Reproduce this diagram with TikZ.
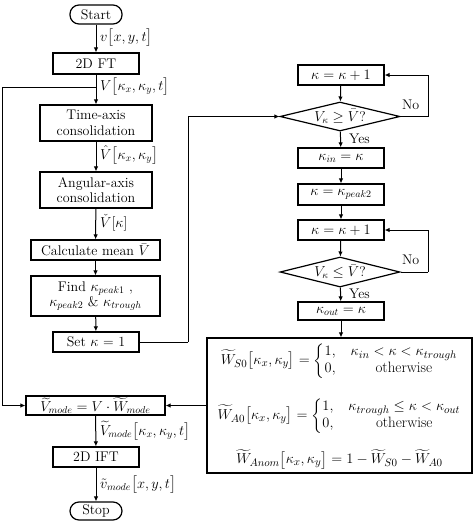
\documentclass[tikz,border=0pt]{standalone}
\usepackage{amsmath}
\usetikzlibrary{shapes.geometric,arrows.meta}
\begin{document}
\begin{tikzpicture}[x=1pt,y=-1pt,
  box/.style={draw, line width=1.2pt, inner sep=1pt, align=center, font=\fontsize{14}{15.5}\selectfont},
  term/.style={box, rounded corners=9pt},
  dec/.style={diamond, draw, line width=1.2pt, aspect=4, inner sep=0pt, font=\fontsize{14}{15}\selectfont},
  arr/.style={line width=1pt, -{Latex[length=5pt,width=4.5pt]}},
  ln/.style={line width=1pt},
  lab/.style={anchor=west, inner sep=1pt, font=\fontsize{14}{15}\selectfont},
  eq/.style={inner sep=1pt, font=\fontsize{15}{17}\selectfont}]
\useasboundingbox (0,0) rectangle (474,523);
% left column
\node[term, minimum width=52pt, minimum height=19pt] (start) at (96,14.5) {Start};
\node[box, minimum width=86pt, minimum height=21pt] (ft) at (96,63.5) {2D FT};
\node[box, minimum width=112pt, minimum height=36pt] (time) at (96,123) {Time-axis\\consolidation};
\node[box, minimum width=112pt, minimum height=36pt] (ang) at (96,190) {Angular-axis\\consolidation};
\node[box, minimum width=129pt, minimum height=20pt] (mean) at (95.5,250) {Calculate mean $\bar{V}$};
\node[box, minimum width=129pt, minimum height=40pt] (find) at (95.5,296) {Find $\kappa_{peak1}$ ,\\$\kappa_{peak2}$ \& $\kappa_{trough}$};
\node[box, minimum width=86pt, minimum height=20pt] (set) at (96,342) {Set $\kappa$ = 1};
\node[box, minimum width=139pt, minimum height=19pt] (vmode) at (95.5,405.5) {$\widetilde{V}_{mode} = V\cdot \widetilde{W}_{mode}$};
\node[box, minimum width=86pt, minimum height=20pt] (ift) at (96,457) {2D IFT};
\node[term, minimum width=52pt, minimum height=18pt] (stop) at (96,511) {Stop};
% right column
\node[box, minimum width=86pt, minimum height=20pt] (inc1) at (341,75) {$\kappa = \kappa + 1$};
\node[dec, minimum width=120pt, minimum height=29pt] (d1) at (340,116.5) {$V_{\kappa} \geq \bar{V}$?};
\node[box, minimum width=86pt, minimum height=20pt] (kin) at (341,158) {$\kappa_{in} = \kappa$};
\node[box, minimum width=86pt, minimum height=21pt] (kp2) at (341,194.5) {$\kappa = \kappa_{peak2}$};
\node[box, minimum width=86pt, minimum height=20pt] (inc2) at (341,230) {$\kappa = \kappa + 1$};
\node[dec, minimum width=120pt, minimum height=30pt] (d2) at (340,272) {$V_{\kappa} \leq \bar{V}$?};
\node[box, minimum width=86pt, minimum height=18pt] (kout) at (341,311) {$\kappa_{out} = \kappa$};
\node[box, minimum width=265pt, minimum height=135pt] (big) at (339.5,405.5) {};
\node[eq] (eq1) at (339.5,361) {$\widetilde{W}_{S0}\bigl[\kappa_x,\kappa_y\bigr] = \left\{\begin{array}{@{}l@{\quad}c@{}}1, & \kappa_{in} < \kappa < \kappa_{trough}\\ 0, & \text{otherwise}\end{array}\right.$};
\node[eq] (eq2) at (339.5,416) {$\widetilde{W}_{A0}\bigl[\kappa_x,\kappa_y\bigr] = \left\{\begin{array}{@{}l@{\quad}c@{}}1, & \kappa_{trough} \leq \kappa < \kappa_{out}\\ 0, & \text{otherwise}\end{array}\right.$};
\node[eq] (eq3) at (339.5,459) {$\widetilde{W}_{Anom}\bigl[\kappa_x,\kappa_y\bigr] = 1 - \widetilde{W}_{S0} - \widetilde{W}_{A0}$};
% left connectors
\draw[arr] (start) -- (ft);
\draw[arr] (ft) -- (time);
\draw[arr] (time) -- (ang);
\draw[arr] (ang) -- (mean);
\draw[arr] (mean) -- (find);
\draw[arr] (find) -- (set);
\draw[arr] (vmode) -- (ift);
\draw[arr] (ift) -- (stop);
\coordinate (br) at (96,87);
\draw[ln] (br) -- (2,87) coordinate (lc);
\draw[arr] (lc) |- (vmode.west);
\coordinate (sr) at (188,342);
\draw[ln] (set.east) -- (sr);
\draw[arr] (sr) |- (d1.west);
\draw[arr] (big.west |- vmode.east) -- (vmode.east);
% right connectors
\draw[arr] (inc1) -- (d1);
\draw[arr] (d1) -- (kin);
\draw[arr] (kin) -- (kp2);
\draw[arr] (kp2) -- (inc2);
\draw[arr] (inc2) -- (d2);
\draw[arr] (d2) -- (kout);
\draw[arr] (kout) -- (big.north -| kout);
\coordinate (n1) at (428,116.5);
\draw[ln] (d1.east) -- (n1);
\draw[arr] (n1) |- (inc1.east);
\coordinate (n2) at (428,272);
\draw[ln] (d2.east) -- (n2);
\draw[arr] (n2) |- (inc2.east);
% labels
\node[lab] (l1) at (99,38) {$v\bigl[x,y,t\bigr]$};
\node[lab] (l2) at (99,87) {$V\bigl[\kappa_x,\kappa_y,t\bigr]$};
\node[lab] (l3) at (99,155) {$\hat{V}\bigl[\kappa_x,\kappa_y\bigr]$};
\node[lab] (l4) at (99,223) {$\check{V}[\kappa]$};
\node[lab] (l5) at (99,431) {$\widetilde{V}_{mode}\bigl[\kappa_x,\kappa_y,t\bigr]$};
\node[lab] (l6) at (99,485) {$\tilde{v}_{mode}\bigl[x,y,t\bigr]$};
\node[lab] (no1) at (401,105) {No};
\node[lab] (yes1) at (348,139) {Yes};
\node[lab] (no2) at (401,260) {No};
\node[lab] (yes2) at (348,294) {Yes};
\end{tikzpicture}
\end{document}
